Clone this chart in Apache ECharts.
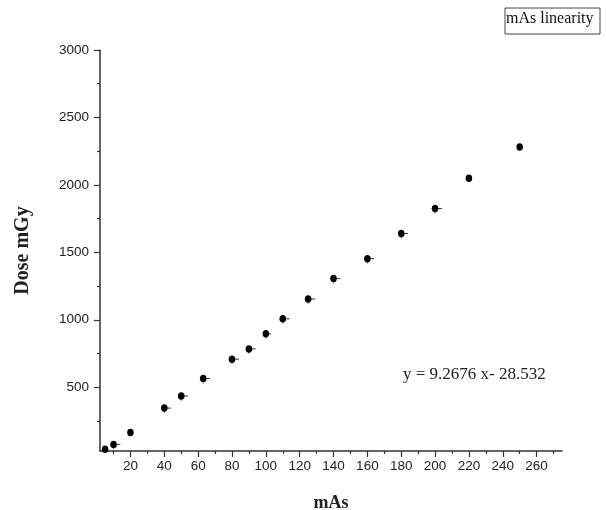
<!DOCTYPE html>
<html>
<head>
<meta charset="utf-8">
<script src="https://cdn.jsdelivr.net/npm/echarts@6/dist/echarts.min.js"></script>
<style>html,body{margin:0;padding:0;background:#fff}#c{width:606px;height:510px}</style>
</head>
<body>
<div id="c"></div>
<script>
const mAs = [5, 10, 20, 40, 50, 63, 80, 90, 100, 110, 125, 140, 160, 180, 200, 220, 250];
const dose = [40, 76, 165, 345, 435, 564, 708, 784, 896, 1007, 1154, 1305, 1453, 1639, 1825, 2050, 2280];
const xErr = [0, 4, 0, 4, 4, 4, 4, 4, 3, 4, 4, 4, 4, 4, 4, 0, 0];
const xTicks = [20, 40, 60, 80, 100, 120, 140, 160, 180, 200, 220, 240, 260];
const xMinor = [10, 30, 50, 70, 90, 110, 130, 150, 170, 190, 210, 230, 250, 270];
const yTicks = [500, 1000, 1500, 2000, 2500, 3000];
const yMinor = [250, 750, 1250, 1750, 2250, 2750];
const equation = 'y = 9.2676 x- 28.532';
const legendText = 'mAs linearity';

const chart = echarts.init(document.getElementById('c'), null, {renderer: 'canvas'});
const axisCol = '#333';
const lblStyle = {color: '#222', fontFamily: 'Liberation Sans, Arial, sans-serif', fontSize: 13.5, formatter: v => String(v)};
const grid = {left: 100, right: 44, top: 50, bottom: 59, containLabel: false, outerBoundsMode: 'none'};
const xBase = {type: 'value', min: 2, max: 275, splitLine: {show: false}};
const yBase = {type: 'value', min: 27, max: 3000, splitLine: {show: false}};

chart.setOption({
  animation: false,
  grid: grid,
  xAxis: [
    Object.assign({}, xBase, {
      name: 'mAs', nameLocation: 'middle', nameGap: 43,
      nameTextStyle: {fontFamily: 'Liberation Serif, Times New Roman, serif', fontWeight: 'bold', fontSize: 18, color: '#222'},
      axisLine: {show: true, onZero: false, lineStyle: {color: axisCol, width: 1.5}},
      axisTick: {show: true, inside: false, length: 6, customValues: xTicks, lineStyle: {color: axisCol, width: 1.2}},
      axisLabel: Object.assign({show: true, margin: 8, customValues: xTicks}, lblStyle)
    }),
    Object.assign({}, xBase, {
      position: 'bottom',
      axisLine: {show: false, onZero: false},
      axisTick: {show: true, inside: false, length: 3, customValues: xMinor, lineStyle: {color: axisCol, width: 1.2}},
      axisLabel: {show: false}
    })
  ],
  yAxis: [
    Object.assign({}, yBase, {
      name: 'Dose mGy', nameLocation: 'middle', nameGap: 67, nameRotate: 90,
      nameTextStyle: {fontFamily: 'Liberation Serif, Times New Roman, serif', fontWeight: 'bold', fontSize: 20, color: '#222'},
      axisLine: {show: true, onZero: false, lineStyle: {color: axisCol, width: 1.5}},
      axisTick: {show: true, inside: false, length: 6, customValues: yTicks, lineStyle: {color: axisCol, width: 1.2}},
      axisLabel: Object.assign({show: true, margin: 11, customValues: yTicks}, lblStyle)
    }),
    Object.assign({}, yBase, {
      position: 'left',
      axisLine: {show: false, onZero: false},
      axisTick: {show: true, inside: false, length: 3, customValues: yMinor, lineStyle: {color: axisCol, width: 1.2}},
      axisLabel: {show: false}
    })
  ],
  series: [
    {
      type: 'custom',
      xAxisIndex: 0, yAxisIndex: 0,
      data: mAs.map((x, i) => [x, dose[i], xErr[i]]),
      renderItem: function (params, api) {
        const e = api.value(2);
        if (!e) return null;
        const x = api.value(0), y = api.value(1);
        const p1 = api.coord([x - e * 0.5, y]);
        const p2 = api.coord([x + e, y]);
        const pc = api.coord([x, y]);
        return {type: 'group', children: [
          {type: 'line', shape: {x1: p1[0], y1: p1[1], x2: p2[0], y2: p2[1]}, style: {stroke: '#333', lineWidth: 1}},
          {type: 'line', shape: {x1: pc[0], y1: pc[1], x2: pc[0], y2: pc[1] + 5}, style: {stroke: '#555', lineWidth: 0.8}}
        ]};
      },
      z: 2
    },
    {
      type: 'scatter',
      xAxisIndex: 0, yAxisIndex: 0,
      data: mAs.map((x, i) => [x, dose[i]]),
      symbol: 'circle',
      symbolSize: [6.5, 7.5],
      itemStyle: {color: '#000', opacity: 1},
      z: 3
    }
  ],
  graphic: [
    {type: 'text', left: 403, top: 366, style: {text: equation, font: '17px "Liberation Serif", "Times New Roman", serif', fill: '#222'}},
    {type: 'rect', shape: {x: 505, y: 8, width: 95, height: 26}, style: {fill: '#fff', stroke: '#444', lineWidth: 1}},
    {type: 'text', left: 506, top: 11, style: {text: legendText, font: '16px "Liberation Serif", "Times New Roman", serif', fill: '#111'}}
  ]
});
</script>
</body>
</html>
